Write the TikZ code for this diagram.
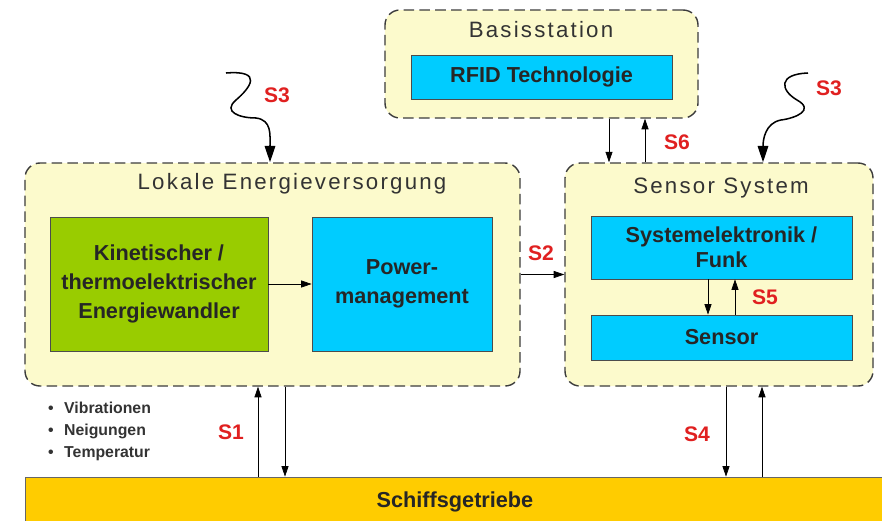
\documentclass[tikz,border=0pt]{standalone}
\usepackage{fontspec}
\setmainfont{Liberation Sans}
\newfontfamily\titlefont[LetterSpace=10]{Liberation Sans}
\usetikzlibrary{positioning,arrows.meta}

\definecolor{paleyellow}{RGB}{252,250,204}
\definecolor{boxcyan}{RGB}{0,204,255}
\definecolor{boxgreen}{RGB}{153,204,0}
\definecolor{baryellow}{RGB}{255,204,0}
\definecolor{sigred}{RGB}{224,32,32}
\definecolor{dashgray}{RGB}{60,60,60}

\tikzset{
  group/.style={draw=dashgray, line width=1.2pt, dash pattern=on 9pt off 4.5pt,
    rounded corners=0.45cm, fill=paleyellow},
  block/.style={draw=black!70, line width=0.6pt, align=center, text=black!85,
    font=\fontsize{18.5}{24.5}\selectfont\bfseries},
  grouptitle/.style={font=\titlefont\fontsize{19}{22}\selectfont, text=black!80},
  sig/.style={-{Triangle[length=9pt,width=6pt]}, line width=0.6pt},
  wave/.style={-{Triangle[length=14pt,width=9pt]}, line width=1.3pt},
  siglabel/.style={font=\fontsize{18}{20}\selectfont\bfseries, text=sigred},
  item/.style={font=\fontsize{13.5}{16}\selectfont\bfseries, text=black!80, anchor=west}
}

\begin{document}
\begin{tikzpicture}[x=0.03cm, y=-0.03cm]
  \useasboundingbox (0,0) rectangle (882,520);

  % Basisstation
  \node [group, minimum width=9.39cm, minimum height=3.24cm] (basis) at (541.5,64) {};
  \node [grouptitle] (basistitle) at (541,30) {Basisstation};
  \node [block, fill=boxcyan, minimum width=7.83cm, minimum height=1.32cm] (rfid) at (541.5,77) {RFID Technologie};

  % Lokale Energieversorgung
  \node [group, minimum width=14.85cm, minimum height=6.69cm] (lokale) at (272.5,274.5) {};
  \node [grouptitle] (lokaletitle) at (292,184) {Lokale Energieversorgung};
  \node [block, fill=boxgreen, minimum width=6.54cm, minimum height=4.02cm] (wandler) at (159,284)
    {Kinetischer /\\thermoelektrischer\\Energiewandler};
  \node [block, fill=boxcyan, minimum width=5.4cm, minimum height=4.02cm] (power) at (402,284)
    {Power-\\management};
  \draw [sig] (wandler.east) -- (power.west);

  % Sensor System
  \node [group, minimum width=9.24cm, minimum height=6.69cm] (sensys) at (719,274.5) {};
  \node [grouptitle] (sensystitle) at (721,188) {Sensor System};
  \node [block, fill=boxcyan, minimum width=7.83cm, minimum height=1.89cm,
    font=\fontsize{18.5}{21.5}\selectfont\bfseries] (elektronik) at (721.5,247.5) {Systemelektronik /\\Funk};
  \node [block, fill=boxcyan, minimum width=7.83cm, minimum height=1.35cm] (sensor) at (721.5,337.5) {Sensor};

  % Schiffsgetriebe
  \node [draw=black!60, line width=0.6pt, fill=baryellow, minimum width=25.8cm, minimum height=1.5cm,
    font=\fontsize{18.5}{20}\selectfont\bfseries, text=black!85] (getriebe) at (455,502) {Schiffsgetriebe};

  % Messgroessen
  \node [item] (item1) at (44,408) {\textbullet\hspace{9pt}Vibrationen};
  \node [item] (item2) at (44,431) {\textbullet\hspace{9pt}Neigungen};
  \node [item] (item3) at (44,454) {\textbullet\hspace{9pt}Temperatur};

  % S1
  \draw [sig] ([xshift=-0.435cm]lokale.south |- getriebe.north) -- ([xshift=-0.435cm]lokale.south);
  \draw [sig] ([xshift=0.375cm]lokale.south) -- ([xshift=0.375cm]lokale.south |- getriebe.north);
  \node [siglabel] (s1) at (231,432) {S1};

  % S2
  \draw [sig] (lokale.east) -- (sensys.west);
  \node [siglabel] (s2) at (541,253) {S2};

  % S3
  \coordinate (wave1) at (226,73);
  \draw [wave] (wave1) .. controls (264,70) and (250,88) .. (236,100)
    .. controls (222,112) and (240,118) .. (256,118)
    .. controls (272,120) and (270,135) .. ([xshift=-0.075cm]lokale.north);
  \node [siglabel] (s3a) at (277,95) {S3};
  \coordinate (wave2) at (808,73);
  \draw [wave] (wave2) .. controls (778,74) and (780,90) .. (797,100)
    .. controls (815,110) and (796,118) .. (781,120)
    .. controls (765,123) and (763,140) .. ([xshift=1.32cm]sensys.north);
  \node [siglabel] (s3b) at (829,88) {S3};

  % S4
  \draw [sig] ([xshift=0.21cm]sensys.south) -- ([xshift=0.21cm]sensys.south |- getriebe.north);
  \draw [sig] ([xshift=1.29cm]sensys.south |- getriebe.north) -- ([xshift=1.29cm]sensys.south);
  \node [siglabel] (s4) at (697,434) {S4};

  % S5
  \draw [sig] ([xshift=-0.405cm]elektronik.south) -- ([xshift=-0.405cm]sensor.north);
  \draw [sig] ([xshift=0.405cm]sensor.north) -- ([xshift=0.405cm]elektronik.south);
  \node [siglabel] (s5) at (765,297) {S5};

  % S6
  \draw [sig] ([xshift=2.025cm]basis.south) -- ([xshift=2.025cm]basis.south |- sensys.north);
  \draw [sig] ([xshift=3.105cm]basis.south |- sensys.north) -- ([xshift=3.105cm]basis.south);
  \node [siglabel] (s6) at (677,142) {S6};

\end{tikzpicture}
\end{document}
